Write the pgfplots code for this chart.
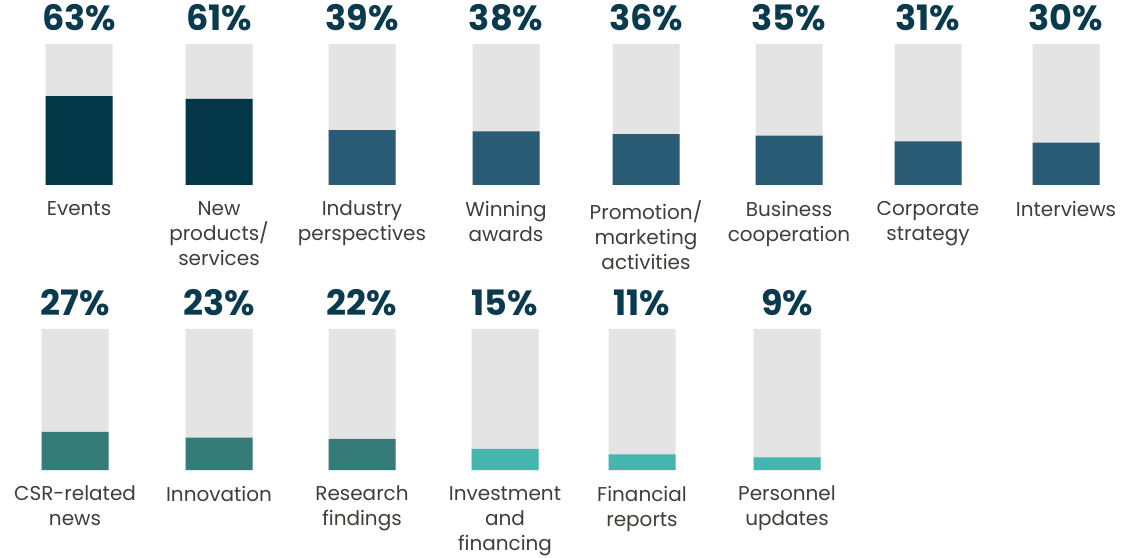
\documentclass[border=0pt]{standalone}
\usepackage{fontspec}
\setmainfont{Poppins}
\usepackage{pgfplots}
\usepackage{pgfplotstable}
\pgfplotsset{compat=1.18}

\definecolor{navy}{RGB}{3,54,71}
\definecolor{midblue}{RGB}{43,92,118}
\definecolor{teal}{RGB}{53,123,120}
\definecolor{lteal}{RGB}{69,181,176}
\definecolor{track}{RGB}{228,228,228}
\definecolor{labtext}{RGB}{64,61,59}
\definecolor{pcttext}{RGB}{10,58,77}

% x = bar centre (px), v = share in %
\pgfplotstableread{
x v
79 63
219 61
362 39
506 38
646 36
789 35
928 31
1066 30
}\toprow
\pgfplotstableread{
x v
75 27
219 23
362 22
505 15
642 11
787 9
}\bottomrow

\pgfplotsset{
  gauge/.style={
    scale only axis, width=570pt, height=70.5pt,
    xmin=0, xmax=1140, ymin=0, ymax=100,
    anchor=south west, clip=false,
    axis line style={draw=none}, major tick length=0pt,
    ytick=\empty,
    ybar, bar width=67,
    xticklabel style={font=\fontsize{10}{12.5}\selectfont, text=labtext,
      align=center, anchor=north, yshift=-4.5pt},
  },
  track/.style={fill=track, draw=none, bar shift=0pt,
    point meta=explicit,
    nodes near coords={\pgfmathprintnumber[assume math mode=true]{\pgfplotspointmeta}\%},
    nodes near coords style={font=\fontsize{17.5}{18}\selectfont\bfseries, text=pcttext,
      anchor=south, yshift=3pt}},
  fillbar/.style={fill=#1, draw=none, bar shift=0pt},
}

\begin{document}
\begin{tikzpicture}
\useasboundingbox (0,0) rectangle (570pt,278.5pt);
\begin{axis}[gauge, at={(0pt,186pt)},
  xtick={79,219,362,506,646,789,928,1066},
  xticklabels={Events, {New\\products/\\services}, {Industry\\perspectives},
    {Winning\\awards}, {Promotion/\\marketing\\activities}, {Business\\cooperation},
    {Corporate\\strategy}, Interviews}]
\addplot[track] table[x=x, y expr=100, meta=v] {\toprow};
\addplot[fillbar=navy] coordinates {(79,63) (219,61)};
\addplot[fillbar=midblue] coordinates {(362,39) (506,38) (646,36) (789,35) (928,31) (1066,30)};
\end{axis}
\begin{axis}[gauge, at={(0pt,43.5pt)},
  xtick={75,219,362,505,642,787},
  xticklabels={{CSR-related\\news}, Innovation, {Research\\findings},
    {Investment\\and\\financing}, {Financial\\reports}, {Personnel\\updates}}]
\addplot[track] table[x=x, y expr=100, meta=v] {\bottomrow};
\addplot[fillbar=teal] coordinates {(75,27) (219,23) (362,22)};
\addplot[fillbar=lteal] coordinates {(505,15) (642,11) (787,9)};
\end{axis}
\end{tikzpicture}
\end{document}
